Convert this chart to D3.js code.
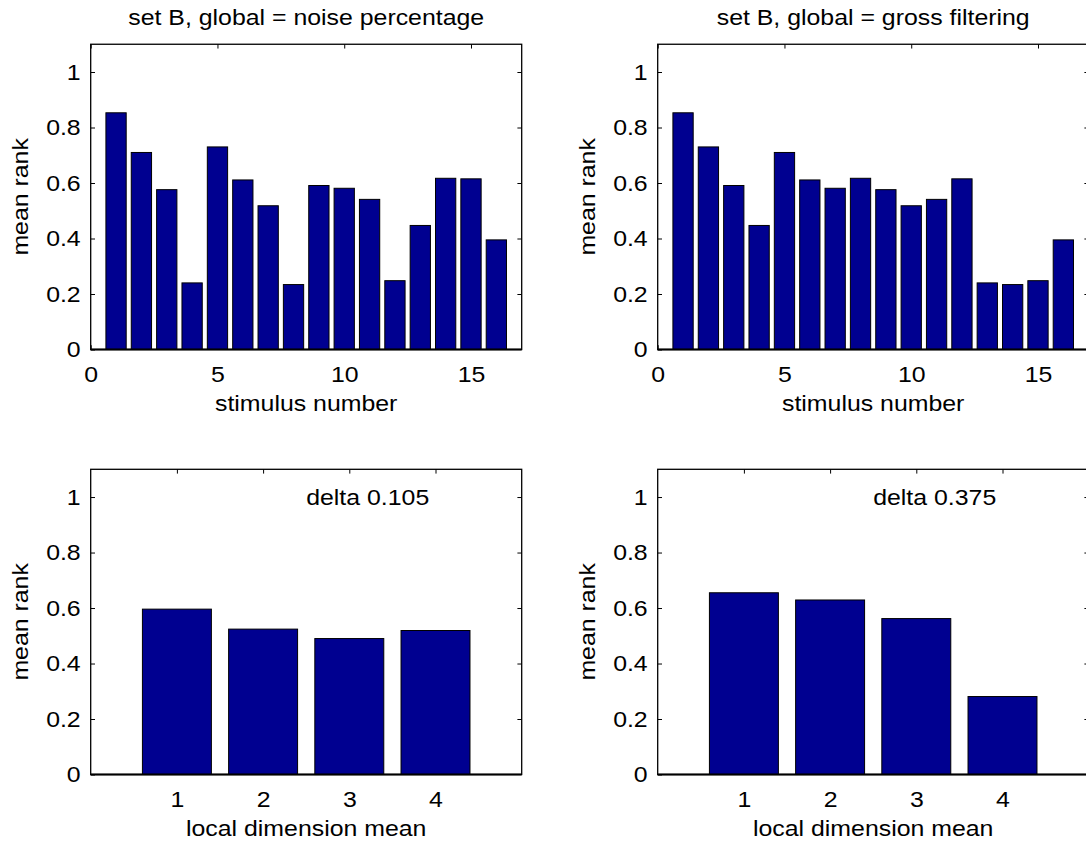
<!DOCTYPE html>
<html>
<head>
<meta charset="utf-8">
<script src="https://cdn.jsdelivr.net/npm/d3@7"></script>
<style>
  body { margin: 0; background: #fff; }
  svg { display: block; }
  text { font-family: "Liberation Sans", Arial, Helvetica, sans-serif; fill: #000; }
</style>
</head>
<body>
<div id="chart"></div>
<script>
// chart data
var stimulusNumbers = [1, 2, 3, 4, 5, 6, 7, 8, 9, 10, 11, 12, 13, 14, 15, 16];
var noiseRanks = [0.853, 0.710, 0.576, 0.240, 0.730, 0.611, 0.518, 0.234, 0.591, 0.581, 0.541, 0.248, 0.447, 0.617, 0.615, 0.395];
var grossRanks = [0.853, 0.730, 0.591, 0.447, 0.710, 0.611, 0.581, 0.617, 0.576, 0.518, 0.541, 0.615, 0.240, 0.234, 0.248, 0.395];
var localDims = [1, 2, 3, 4];
var noiseLocalRanks = [0.596, 0.524, 0.490, 0.519];
var grossLocalRanks = [0.655, 0.629, 0.562, 0.281];
var yTicks = [0, 0.2, 0.4, 0.6, 0.8, 1];
var stimTicks = [0, 5, 10, 15];
var titles = ["set B, global = noise percentage", "set B, global = gross filtering"];
var deltaLabels = ["delta 0.105", "delta 0.375"];

// figure params
var svgWidth = 1086;
var svgHeight = 846;
var fontSize = 22;
var textStretch = 1.13; // the reference text is a bit wider than plain Arial
var barColor = "#000090";
var tickLen = 4.3;

var svg = d3.select("#chart").append("svg")
  .attr("width", svgWidth)
  .attr("height", svgHeight);

// panel boxes in pixels
var cols = [{ left: 90.7, right: 521.7 }, { left: 657.7, right: 1088.7 }];
var rows = [{ top: 44.25, bottom: 349.5 }, { top: 469.3, bottom: 774.5 }];

function drawPanel(col, row, cats, values, xDomain, xTicks, xLabel, title, note) {
  var g = svg.append("g");
  var x = d3.scaleLinear().domain(xDomain).range([col.left, col.right]);
  var y = d3.scaleLinear().domain([0, 1.1]).range([row.bottom, row.top]);

  // ticks (inward, on all four sides)
  var leftAxis = d3.axisLeft(y).tickValues(yTicks).tickSizeInner(-tickLen).tickSizeOuter(0)
    .tickPadding(10).tickFormat(d3.format("~g"));
  var rightAxis = d3.axisRight(y).tickValues(yTicks.slice(1)).tickSizeInner(-tickLen).tickSizeOuter(0).tickFormat("");
  var bottomAxis = d3.axisBottom(x).tickValues(xTicks).tickSizeInner(-tickLen).tickSizeOuter(0)
    .tickPadding(32 - 0.71 * fontSize).tickFormat(d3.format("d"));
  var topAxis = d3.axisTop(x).tickValues(xTicks).tickSizeInner(-tickLen).tickSizeOuter(0).tickFormat("");

  var axes = [
    [leftAxis, `translate(${col.left},0)`],
    [rightAxis, `translate(${col.right},0)`],
    [bottomAxis, `translate(0,${row.bottom})`],
    [topAxis, `translate(0,${row.top})`]
  ];
  axes.forEach(function(a) {
    var ag = g.append("g").attr("transform", a[1]).call(a[0]);
    ag.select(".domain").remove();
    ag.selectAll("line").attr("stroke", "#000").attr("stroke-width", 1);
    ag.selectAll("text").style("font-size", fontSize + "px").style("font-family", "'Liberation Sans', Arial, sans-serif").attr("fill", "#000");
  });

  // bars
  g.append("g").selectAll("rect")
    .data(cats)
    .enter()
    .append("rect")
    .attr("x", d => x(d - 0.4))
    .attr("width", d => x(d + 0.4) - x(d - 0.4))
    .attr("y", (d, i) => y(values[i]))
    .attr("height", (d, i) => y(0) - y(values[i]))
    .attr("fill", barColor)
    .attr("stroke", "#000")
    .attr("stroke-width", 1);

  // axes box
  g.append("rect")
    .attr("x", col.left)
    .attr("y", row.top)
    .attr("width", col.right - col.left)
    .attr("height", row.bottom - row.top)
    .attr("fill", "none")
    .attr("stroke", "#000")
    .attr("stroke-width", 1.3);

  // baseline a bit heavier, like the reference
  g.append("line")
    .attr("x1", col.left).attr("x2", col.right)
    .attr("y1", y(0)).attr("y2", y(0))
    .attr("stroke", "#000")
    .attr("stroke-width", 2);

  // axis labels
  g.append("text")
    .attr("x", (col.left + col.right) / 2)
    .attr("y", row.bottom + 61)
    .attr("text-anchor", "middle")
    .style("font-size", fontSize + "px")
    .text(xLabel);

  g.append("text")
    .attr("transform", `translate(${col.left - 62.5},${(row.top + row.bottom) / 2}) rotate(-90)`)
    .attr("text-anchor", "middle")
    .style("font-size", fontSize + "px")
    .text("mean rank");

  if (title) {
    g.append("text")
      .attr("x", (col.left + col.right) / 2)
      .attr("y", 25)
      .attr("text-anchor", "middle")
      .style("font-size", fontSize + "px")
      .text(title);
  }

  if (note) {
    g.append("text")
      .attr("x", x(2.5))
      .attr("y", y(1))
      .attr("dy", "0.35em")
      .style("font-size", fontSize + "px")
      .text(note);
  }
}

drawPanel(cols[0], rows[0], stimulusNumbers, noiseRanks, [0, 17], stimTicks, "stimulus number", titles[0], null);
drawPanel(cols[1], rows[0], stimulusNumbers, grossRanks, [0, 17], stimTicks, "stimulus number", titles[1], null);
drawPanel(cols[0], rows[1], localDims, noiseLocalRanks, [0, 5], localDims, "local dimension mean", null, deltaLabels[0]);
drawPanel(cols[1], rows[1], localDims, grossLocalRanks, [0, 5], localDims, "local dimension mean", null, deltaLabels[1]);

// widen all text a little
svg.selectAll("text").each(function() {
  var w = this.getComputedTextLength();
  if (w > 0) {
    d3.select(this)
      .attr("textLength", w * textStretch)
      .attr("lengthAdjust", "spacingAndGlyphs");
  }
});
</script>
</body>
</html>
